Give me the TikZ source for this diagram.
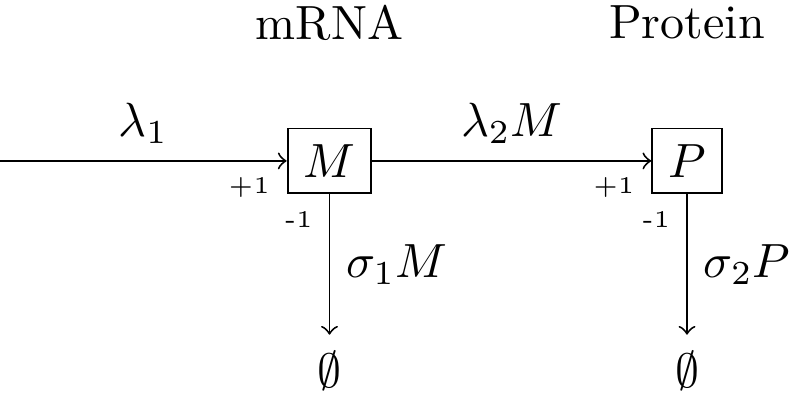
\documentclass[tikz,border=0pt]{standalone}
\usepackage{amssymb}
\usepackage{amsmath}

\begin{document}
\begin{tikzpicture}[>=to]
  \tikzset{species/.style={draw, rectangle},
           stoich/.style={font=\tiny}}
  \useasboundingbox (0,0) rectangle (5.805,2.884);
  \coordinate (src) at (0,1.706);
  \node[species] (M) at (2.412,1.706) {$M$};
  \node[species] (P) at (5.029,1.706) {$P$};
  \node (E1) at (2.412,0.168) {$\emptyset$};
  \node (E2) at (5.029,0.168) {$\emptyset$};
  \node (mRNA) at (2.412,2.72) {mRNA};
  \node (Prot) at (5.029,2.72) {Protein};
  \draw[->] (src) -- node[above] {$\lambda_1$} node[pos=1, below left, stoich] {+1} (M);
  \draw[->] (M) -- node[above] {$\lambda_2 M$} node[pos=1, below left, stoich] {+1} (P);
  \draw[->] (M) -- node[right] {$\sigma_1 M$} node[pos=0, below left, stoich] {-1} (E1);
  \draw[->] (P) -- node[right] {$\sigma_2 P$} node[pos=0, below left, stoich] {-1} (E2);
\end{tikzpicture}
\end{document}
